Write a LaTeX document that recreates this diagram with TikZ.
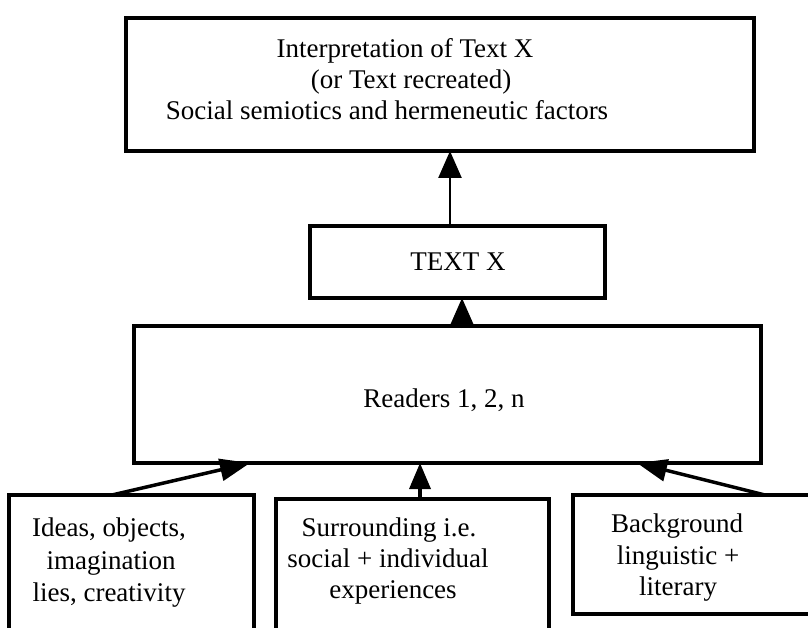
\documentclass[tikz,border=0pt]{standalone}
\usepackage{fontspec}
\setmainfont{Liberation Serif}
\usetikzlibrary{arrows.meta}
\begin{document}
\begin{tikzpicture}[x=1pt,y=-1pt,
  box/.style={draw, line width=4.5pt, inner sep=0pt, outer sep=0pt, rectangle},
  lbl/.style={anchor=base, inner sep=0pt, font=\fontsize{27pt}{32pt}\selectfont},
  arr/.style={line width=2.5pt, -{Triangle[width=23pt,length=27pt]}},
  darr/.style={line width=3.5pt, -{Triangle[width=22pt,length=30pt]}}]
\useasboundingbox (0,0) rectangle (808,628);
\clip (0,0) rectangle (808,628);
% boxes
\node[box, minimum width=628pt, minimum height=133pt] (top) at (440,84.5) {};
\node[box, minimum width=295pt, minimum height=72pt] (textx) at (457.5,262) {};
\node[box, minimum width=627pt, minimum height=137pt] (readers) at (447.5,394.5) {};
\node[box, minimum width=245pt, minimum height=165pt] (lb) at (131.5,577.5) {};
\node[box, minimum width=273pt, minimum height=161pt] (mb) at (412.5,579.5) {};
\node[box, minimum width=239pt, minimum height=119pt] (rb) at (692.5,554.5) {};
% texts
\node[lbl] (t1) at (405,58) {Interpretation of Text X};
\node[lbl] (t2) at (411,89) {(or Text recreated)};
\node[lbl] (t3) at (387,120) {Social semiotics and hermeneutic factors};
\node[lbl] (tx) at (458,271) {TEXT X};
\node[lbl] (tr) at (444,407) {Readers 1, 2, n};
\node[lbl] (l1) at (109,536) {Ideas, objects,};
\node[lbl] (l2) at (111,569) {imagination};
\node[lbl] (l3) at (109,601) {lies, creativity};
\node[lbl] (m1) at (389,536) {Surrounding i.e.};
\node[lbl] (m2) at (388,567) {social + individual};
\node[lbl] (m3) at (393,598) {experiences};
\node[lbl] (r1) at (677,532) {Background};
\node[lbl] (r2) at (678,564) {linguistic +};
\node[lbl] (r3) at (678,595) {literary};
% connector x positions
\coordinate (xa) at (450,0);
\coordinate (xb) at (462,0);
\coordinate (xl1) at (112,0);
\coordinate (xl2) at (250,0);
\coordinate (xm) at (420,0);
\coordinate (xr1) at (765,0);
\coordinate (xr2) at (637,0);
% connectors
\draw[arr] (textx.north -| xa) -- (top.south -| xa);
\draw[arr, shorten <=-2pt] (readers.north -| xb) -- (textx.south -| xb);
\draw[darr] (lb.north -| xl1) -- (readers.south -| xl2);
\draw[darr, -{Triangle[width=21pt,length=26pt]}] (mb.north -| xm) -- (readers.south -| xm);
\draw[darr] (rb.north -| xr1) -- (readers.south -| xr2);
\end{tikzpicture}
\end{document}
